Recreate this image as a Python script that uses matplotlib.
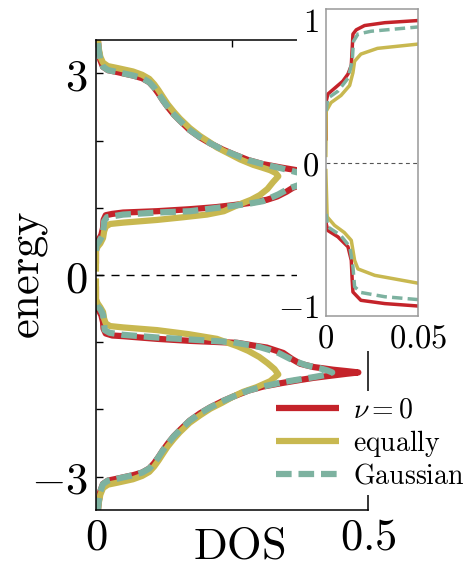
import numpy as np
import matplotlib
matplotlib.use("Agg")
import matplotlib.pyplot as plt
from matplotlib.patches import Rectangle

plt.rcParams['mathtext.fontset'] = 'cm'
plt.rcParams['font.family'] = ['DejaVu Serif']

nan = np.nan

# density of states (dos, energy): lower band, gap, upper band
nu0_dos = [0.003, 0.005, 0.008, 0.013, 0.022, 0.040, 0.068, 0.085, 0.098, 0.107, 0.115, 0.123,
           0.132, 0.143, 0.154, 0.172, 0.191, 0.210, 0.232, 0.252, 0.280, 0.307, 0.340, 0.369,
           0.400, 0.430, 0.460, 0.482, 0.460, 0.436, 0.400, 0.375, 0.360, 0.344, 0.314, 0.290,
           0.260, 0.173, 0.112, 0.050, 0.030, 0.018, 0.014, 0.013, 0.010, 0.005, 0.0, 0.0, nan,
           0.0, 0.0, 0.005, 0.010, 0.013, 0.014, 0.018, 0.030, 0.050, 0.112, 0.173, 0.220, 0.252,
           0.280, 0.314, 0.333, 0.350, 0.362, 0.380, 0.400, 0.445, 0.482, 0.460, 0.430, 0.400,
           0.369, 0.340, 0.307, 0.280, 0.252, 0.232, 0.210, 0.191, 0.172, 0.154, 0.143, 0.132,
           0.123, 0.115, 0.107, 0.098, 0.085, 0.068, 0.040, 0.022, 0.013, 0.008, 0.005, 0.003]
nu0_E = [-3.55, -3.38, -3.22, -3.11, -3.06, -3.03, -2.98, -2.94, -2.88, -2.80, -2.71, -2.61,
         -2.51, -2.40, -2.31, -2.17, -2.06, -1.97, -1.88, -1.81, -1.72, -1.66, -1.61, -1.57,
         -1.53, -1.50, -1.47, -1.45, -1.43, -1.41, -1.37, -1.32, -1.25, -1.16, -1.08, -1.05,
         -1.01, -0.98, -0.95, -0.91, -0.90, -0.87, -0.80, -0.70, -0.60, -0.52, -0.43, -0.17, nan,
         0.17, 0.43, 0.52, 0.60, 0.70, 0.82, 0.89, 0.91, 0.93, 0.95, 0.98, 1.01, 1.04,
         1.07, 1.12, 1.17, 1.24, 1.30, 1.35, 1.38, 1.42, 1.45, 1.47, 1.49, 1.52,
         1.56, 1.60, 1.65, 1.71, 1.80, 1.87, 1.96, 2.05, 2.16, 2.30, 2.39, 2.50,
         2.60, 2.70, 2.79, 2.87, 2.93, 2.97, 3.02, 3.05, 3.10, 3.20, 3.35, 3.55]

equal_dos = [0.003, 0.005, 0.008, 0.013, 0.022, 0.040, 0.068, 0.085, 0.098, 0.107, 0.115, 0.123,
             0.132, 0.143, 0.154, 0.172, 0.191, 0.210, 0.232, 0.252, 0.270, 0.295, 0.320, 0.335,
             0.328, 0.315, 0.300, 0.280, 0.260, 0.222, 0.170, 0.112, 0.050, 0.026, 0.018, 0.015,
             0.013, 0.008, 0.003, 0.0, 0.0, nan,
             0.0, 0.0, 0.003, 0.008, 0.013, 0.015, 0.018, 0.026, 0.050, 0.112, 0.160, 0.204,
             0.235, 0.260, 0.285, 0.301, 0.315, 0.325, 0.335, 0.330, 0.320, 0.305, 0.289, 0.265,
             0.246, 0.222, 0.210, 0.191, 0.172, 0.154, 0.143, 0.132, 0.123, 0.115, 0.107, 0.098,
             0.085, 0.068, 0.040, 0.022, 0.013, 0.008, 0.005, 0.003]
equal_E = [-3.55, -3.40, -3.27, -3.17, -3.12, -3.09, -3.04, -2.99, -2.93, -2.85, -2.76, -2.66,
           -2.55, -2.44, -2.34, -2.20, -2.09, -1.99, -1.90, -1.81, -1.74, -1.67, -1.58, -1.48,
           -1.40, -1.31, -1.22, -1.13, -1.06, -0.95, -0.88, -0.82, -0.78, -0.76, -0.72, -0.65,
           -0.55, -0.48, -0.42, -0.36, -0.05, nan,
           0.05, 0.36, 0.42, 0.47, 0.55, 0.65, 0.72, 0.76, 0.78, 0.82, 0.86, 0.90,
           0.95, 1.04, 1.12, 1.19, 1.28, 1.38, 1.47, 1.52, 1.56, 1.60, 1.64, 1.72,
           1.80, 1.90, 1.97, 2.07, 2.19, 2.33, 2.43, 2.54, 2.65, 2.75, 2.84, 2.92,
           2.98, 3.03, 3.08, 3.11, 3.16, 3.25, 3.38, 3.55]

gauss_dos = [0.003, 0.005, 0.008, 0.013, 0.022, 0.040, 0.068, 0.085, 0.098, 0.107, 0.115, 0.123,
             0.132, 0.143, 0.154, 0.172, 0.191, 0.210, 0.232, 0.252, 0.280, 0.307, 0.340, 0.369,
             0.400, 0.420, 0.434, 0.425, 0.412, 0.385, 0.362, 0.345, 0.333, 0.300, 0.252, 0.173,
             0.112, 0.050, 0.025, 0.016, 0.015, 0.013, 0.008, 0.001, 0.0, nan,
             0.0, 0.001, 0.006, 0.012, 0.014, 0.015, 0.020, 0.050, 0.112, 0.173, 0.252, 0.280,
             0.307, 0.335, 0.355, 0.380, 0.410, 0.434, 0.420, 0.400, 0.369, 0.340, 0.307, 0.280,
             0.252, 0.232, 0.210, 0.191, 0.172, 0.154, 0.143, 0.132, 0.123, 0.115, 0.107, 0.098,
             0.085, 0.068, 0.040, 0.022, 0.013, 0.008, 0.005, 0.003]
gauss_E = [-3.55, -3.38, -3.22, -3.11, -3.06, -3.03, -2.98, -2.94, -2.88, -2.80, -2.71, -2.61,
           -2.51, -2.40, -2.31, -2.17, -2.06, -1.97, -1.88, -1.81, -1.72, -1.66, -1.60, -1.56,
           -1.52, -1.49, -1.45, -1.42, -1.39, -1.34, -1.27, -1.20, -1.15, -1.07, -1.00, -0.96,
           -0.93, -0.89, -0.86, -0.82, -0.73, -0.59, -0.51, -0.45, -0.36, nan,
           0.36, 0.45, 0.50, 0.59, 0.71, 0.80, 0.86, 0.90, 0.93, 0.95, 1.03, 1.06,
           1.10, 1.20, 1.29, 1.36, 1.40, 1.44, 1.47, 1.49, 1.53, 1.59, 1.65, 1.71,
           1.80, 1.87, 1.96, 2.05, 2.16, 2.30, 2.39, 2.50, 2.60, 2.70, 2.79, 2.87,
           2.93, 2.97, 3.02, 3.05, 3.10, 3.20, 3.35, 3.55]

# close-up of the gap edges
nu0_in_dos = [0.050, 0.032, 0.019, 0.0147, 0.0143, 0.0138, 0.012, 0.0065, 0.0011, 0.0002, 0.0002, nan,
              0.0002, 0.0002, 0.0011, 0.0047, 0.0092, 0.012, 0.0138, 0.0143, 0.0147, 0.0165,
              0.021, 0.032, 0.050]
nu0_in_E = [-1.005, -0.988, -0.965, -0.907, -0.825, -0.685, -0.59, -0.52, -0.476, -0.43, -0.17, nan,
            0.166, 0.43, 0.48, 0.52, 0.57, 0.62, 0.68, 0.80, 0.90, 0.93,
            0.96, 0.98, 0.995]

equal_in_dos = [0.050, 0.0265, 0.0174, 0.0156, 0.0138, 0.010, 0.0047, 0.0007, 0.0, nan,
                0.0, 0.0002, 0.0028, 0.0082, 0.0129, 0.0147, 0.0156, 0.019, 0.028, 0.050]
equal_in_E = [-0.845, -0.79, -0.745, -0.685, -0.545, -0.49, -0.44, -0.38, -0.056, nan,
              0.05, 0.36, 0.42, 0.47, 0.54, 0.63, 0.71, 0.76, 0.80, 0.83]

gauss_in_dos = [0.050, 0.032, 0.019, 0.0156, 0.0147, 0.013, 0.008, 0.001, 0.0002, nan,
                0.0002, 0.001, 0.0065, 0.012, 0.0143, 0.015, 0.0174, 0.0245, 0.050]
gauss_in_E = [-0.96, -0.94, -0.91, -0.87, -0.73, -0.59, -0.51, -0.45, -0.36, nan,
              0.36, 0.45, 0.50, 0.59, 0.71, 0.85, 0.90, 0.92, 0.95]

labels = [r'$\nu=0$', r'$\mathrm{equally}$', r'$\mathrm{Gaussian}$']
colors = ['#c4232a', '#c8b850', '#7db2a0']

fig = plt.figure(figsize=(4.75, 5.7), dpi=100)
ax = fig.add_axes([0.202, 0.105, 0.573, 0.825])

ax.plot(nu0_dos, nu0_E, color=colors[0], lw=4.5, label=labels[0], solid_capstyle='butt')
ax.plot(equal_dos, equal_E, color=colors[1], lw=4.5, label=labels[1], solid_capstyle='butt')
ax.plot(gauss_dos, gauss_E, color=colors[2], lw=4.5, dashes=(2.5, 1.1), label=labels[2],
        dash_capstyle='butt')
ax.axhline(0, color='k', lw=1.0, ls=(0, (5.8, 5)), zorder=1)

ax.set_xlim(0, 0.5)
ax.set_ylim(-3.5, 3.5)
ax.set_xticks([0, 0.25, 0.5])
ax.set_xticklabels(['$0$', '', '$0.5$'])
ax.set_yticks([-3, -2, -1, 0, 1, 2, 3])
ax.set_yticklabels(['$-3$', '', '', '$0$', '', '', '$3$'])
ax.tick_params(axis='x', bottom=False, top=True, direction='in', length=5, width=1,
               labelbottom=True, labelsize=32, pad=4)
ax.tick_params(axis='y', left=True, right=False, direction='in', length=5, width=1,
               labelsize=32, pad=6)
for s in ax.spines.values():
    s.set_linewidth(1.1)

ax.set_ylabel(r'$\mathrm{energy}$', fontsize=32)
ax.yaxis.set_label_coords(-0.17, 0.5)
ax.set_xlabel(r'$\mathrm{DOS}$', fontsize=32, va='top')
ax.xaxis.set_label_coords(0.526, -0.03)

leg = ax.legend(loc='upper left', bbox_to_anchor=(270 / 475, (570 - 391) / 570),
                bbox_transform=fig.transFigure, fontsize=20, frameon=True, fancybox=False,
                framealpha=1, edgecolor='none', borderpad=0.2, borderaxespad=0,
                handlelength=2.3, handletextpad=0.5, labelspacing=0.15)

# white backing behind the inset and its labels
fig.patches.append(Rectangle((297 / 475, (570 - 351) / 570), 1, 1, transform=fig.transFigure,
                             facecolor='white', edgecolor='none', zorder=1))

axi = fig.add_axes([0.686, 0.4456, 0.194, 0.5384])
axi.set_zorder(2)
axi.plot(nu0_in_dos, nu0_in_E, color=colors[0], lw=2.5)
axi.plot(equal_in_dos, equal_in_E, color=colors[1], lw=2.5)
axi.plot(gauss_in_dos, gauss_in_E, color=colors[2], lw=2.5, dashes=(3, 1.5))
axi.axhline(0, color='#555555', lw=0.8, ls=(0, (3.5, 3)))
axi.set_xlim(0, 0.05)
axi.set_ylim(-1.075, 1.075)
axi.set_xticks([0, 0.05])
axi.set_xticklabels(['$0$', '$0.05$'])
axi.set_yticks([-1, 0, 1])
axi.set_yticklabels(['$-1$', '$0$', '$1$'])
axi.tick_params(length=0, labelsize=23.5, pad=5)
for s in axi.spines.values():
    s.set_color('#999999')
    s.set_linewidth(1.1)

fig.savefig('out.png', dpi=100)
